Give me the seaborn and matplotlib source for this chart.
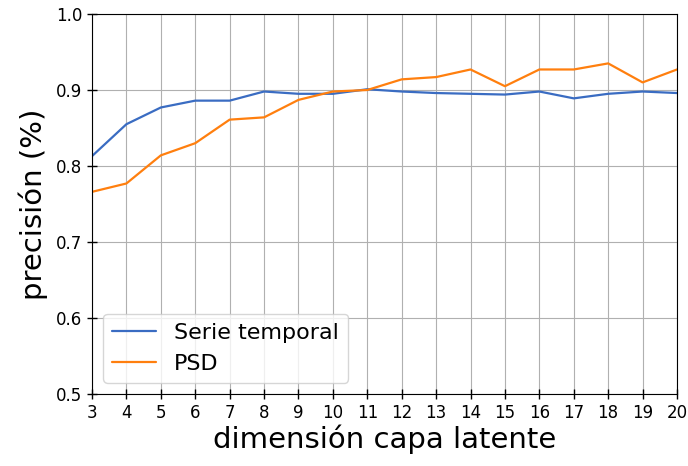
import matplotlib
matplotlib.use("Agg")
import matplotlib.pyplot as plt
import seaborn as sns
import pandas as pd

dims = list(range(3, 21))
serie_temporal = [0.813, 0.855, 0.877, 0.886, 0.886, 0.898, 0.895, 0.895, 0.901,
                  0.898, 0.896, 0.895, 0.894, 0.898, 0.889, 0.895, 0.898, 0.896]
psd = [0.766, 0.777, 0.814, 0.830, 0.861, 0.864, 0.887, 0.898, 0.900,
       0.914, 0.917, 0.927, 0.905, 0.927, 0.927, 0.935, 0.910, 0.927]

df = pd.DataFrame({
    "dim": dims * 2,
    "acc": serie_temporal + psd,
    "serie": ["Serie temporal"] * len(dims) + ["PSD"] * len(dims),
})

sns.set_style("ticks", {"text.color": "black", "axes.labelcolor": "black",
                        "xtick.color": "black", "ytick.color": "black"})
plt.rcParams["font.family"] = ["DejaVu Sans"]

fig = plt.figure(figsize=(6.88, 4.66), dpi=100)
ax = fig.add_axes([92 / 688, 1 - 394 / 466, 585 / 688, 380 / 466])

sns.lineplot(data=df, x="dim", y="acc", hue="serie",
             palette=["#3a6cc2", "#ff7f0e"], linewidth=1.6, ax=ax)

ax.set_xlim(3, 20)
ax.set_ylim(0.5, 1.0)
ax.set_xticks(dims)
ax.set_yticks([0.5, 0.6, 0.7, 0.8, 0.9, 1.0])
ax.tick_params(axis="both", labelsize=12, direction="inout", length=7,
               color="black", width=1)
ax.grid(True, color="#b0b0b0", linewidth=0.8)
ax.set_xlabel("dimensión capa latente", fontsize=21, labelpad=2)
ax.set_ylabel("precisión (%)", fontsize=21, labelpad=6)
for s in ax.spines.values():
    s.set_visible(True)
    s.set_color("black")

leg = ax.legend(loc="lower left", fontsize=16, title=None,
                borderaxespad=0.5)

fig.savefig("out.png", dpi=100)
